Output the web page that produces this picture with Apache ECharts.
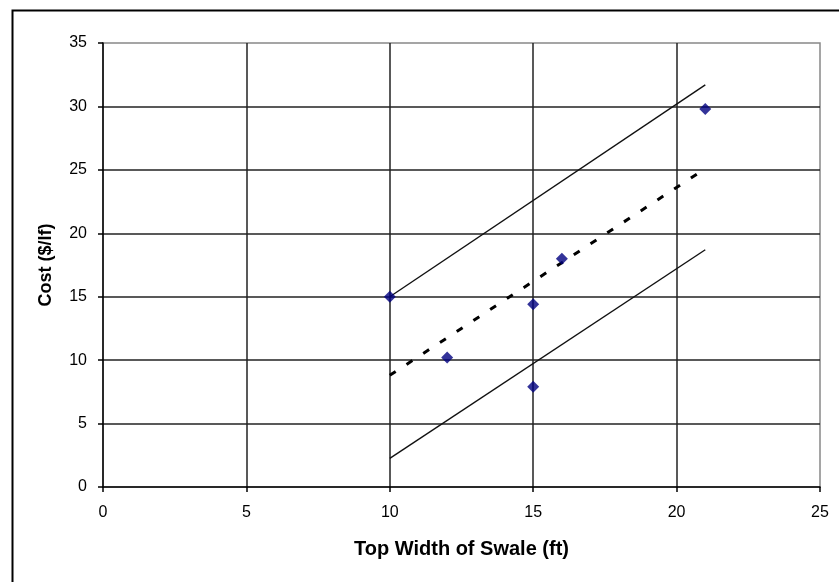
<!DOCTYPE html>
<html>
<head>
<meta charset="utf-8">
<style>html,body{margin:0;padding:0;background:#fff}#c{width:839px;height:582px}</style>
<script src="https://cdn.jsdelivr.net/npm/echarts@6/dist/echarts.min.js"></script>
</head>
<body>
<div id="c"></div>
<script>
// Observed data points (Top width ft, Cost $/lf)
const widths = [10, 12, 15, 15, 16, 21];
const costs = [15.0, 10.2, 14.4, 7.9, 18.0, 29.8];
// Trend line (dashed) endpoints
const trendX = [10, 21];
const trendY = [8.8, 25.1];
// Upper envelope line
const upperX = [10, 21];
const upperY = [15.0, 31.7];
// Lower envelope line
const lowerX = [10, 21];
const lowerY = [2.25, 18.7];

const pts = (xs, ys) => xs.map((x, i) => [x, ys[i]]);
const font = 'Liberation Sans, Arial, sans-serif';

const chart = echarts.init(document.getElementById('c'), null, {renderer: 'canvas'});
chart.setOption({
  animation: false,
  backgroundColor: '#fff',
  graphic: [{
    type: 'rect', left: 10, top: 8, z: 100,
    shape: {x: 0, y: 0, width: 900, height: 700},
    style: {fill: 'none', stroke: '#000', lineWidth: 2}
  }],
  grid: {left: 103, right: 19, top: 43, bottom: 95, show: true, borderColor: '#888', borderWidth: 1.5, backgroundColor: 'transparent'},
  xAxis: {
    type: 'value', min: 0, max: 25, interval: 5,
    name: 'Top Width of Swale (ft)', nameLocation: 'middle', nameGap: 52,
    nameTextStyle: {fontFamily: font, fontSize: 20, fontWeight: 'bold', color: '#000'},
    axisLine: {show: true, onZero: false, lineStyle: {color: '#000', width: 1.5}},
    axisTick: {show: true, length: 5, lineStyle: {color: '#000', width: 1.5}},
    axisLabel: {margin: 18, fontFamily: font, fontSize: 16, color: '#000'},
    splitLine: {show: true, showMinLine: false, showMaxLine: false, lineStyle: {color: '#222', width: 1.5}}
  },
  yAxis: {
    type: 'value', min: 0, max: 35, interval: 5,
    name: 'Cost ($/lf)', nameLocation: 'middle', nameGap: 48,
    nameTextStyle: {fontFamily: font, fontSize: 18, fontWeight: 'bold', color: '#000'},
    axisLine: {show: true, onZero: false, lineStyle: {color: '#000', width: 1.5}},
    axisTick: {show: true, length: 5, lineStyle: {color: '#000', width: 1.5}},
    axisLabel: {margin: 16, fontFamily: font, fontSize: 16, color: '#000'},
    splitLine: {show: true, showMinLine: false, showMaxLine: false, lineStyle: {color: '#222', width: 1.5}}
  },
  series: [
    {type: 'line', data: pts(upperX, upperY), symbol: 'none', lineStyle: {color: '#111', width: 1.4}, z: 3},
    {type: 'line', data: pts(lowerX, lowerY), symbol: 'none', lineStyle: {color: '#111', width: 1.4}, z: 3},
    {type: 'line', data: pts(trendX, trendY), symbol: 'none', lineStyle: {color: '#000', width: 3, type: [7, 13]}, z: 3},
    {type: 'scatter', data: pts(widths, costs), symbol: 'diamond', symbolSize: 12, itemStyle: {color: '#000080'}, z: 5}
  ]
});
</script>
</body>
</html>
